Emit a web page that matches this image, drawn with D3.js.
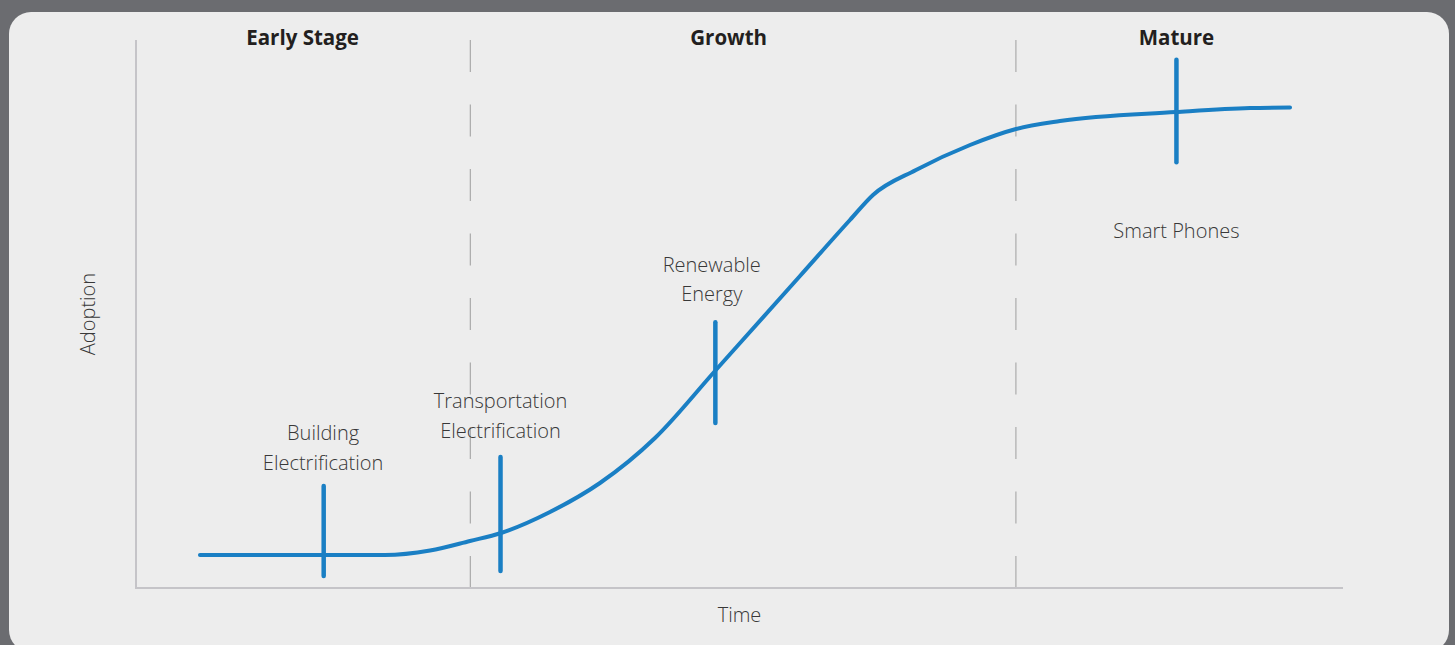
<!DOCTYPE html>
<html>
<head>
<meta charset="utf-8">
<script src="https://cdn.jsdelivr.net/npm/d3@7"></script>
<style>
  html, body { margin: 0; padding: 0; background: #6b6c70; }
  svg { display: block; }
  text { font-family: "Open Sans", Lato, sans-serif; }
</style>
</head>
<body>
<div id="chart"></div>
<script>
// DATA
const stageNames = ["Early Stage", "Growth", "Mature"];
const stageCenters = [13.8, 49.1, 86.2];
const stageDividers = [27.7, 72.9];

// adoption curve (time, adoption)
const curveTime =     [5.3, 20.63, 24.36, 27.67, 30.24, 34.30, 38.44, 43.00, 47.97, 55.01, 59.15, 61.06, 64.62, 69.10, 72.91, 76.55, 86.16, 92.30, 95.61];
const curveAdoption = [6.02, 6.02, 6.84,  8.58,  10.04, 13.87, 19.16, 27.37, 39.60, 56.93, 67.15, 71.72, 76.28, 80.84, 83.76, 85.22, 86.86, 87.59, 87.68];

// milestones
const milestoneLabels = [["Building", "Electrification"], ["Transportation", "Electrification"], ["Renewable", "Energy"], ["Smart Phones"]];
const milestoneTime = [15.55, 30.2, 48.0, 86.2];
const markerTop = [18.6, 23.9, 48.5, 96.4];
const markerBottom = [2.2, 3.1, 30.1, 77.7];
const labelTime = [15.5, 30.2, 47.7, 86.2];
const labelAdoption = [27.0, 32.8, 57.7, 63.9];

const xTitle = "Time";
const yTitle = "Adoption";

// SIZE
const width = 1455, height = 645;
const margin = {left: 136, right: 112, top: 40, bottom: 57};
const blue = "#1a7fc4";

const svg = d3.select("#chart").append("svg")
  .attr("width", width)
  .attr("height", height);

// card background
svg.append("rect")
  .attr("x", 9).attr("y", 12)
  .attr("width", 1440).attr("height", 640)
  .attr("rx", 22).attr("ry", 22)
  .attr("fill", "#ededed");

const x = d3.scaleLinear().domain([0, 100]).range([margin.left, width - margin.right]);
const y = d3.scaleLinear().domain([0, 100]).range([height - margin.bottom, margin.top]);

// stage dividers (dashed)
svg.append("g")
  .selectAll("line")
  .data(stageDividers)
  .enter().append("line")
  .attr("x1", d => x(d)).attr("x2", d => x(d))
  .attr("y1", y(100)).attr("y2", y(0))
  .attr("stroke", "#ababab")
  .attr("stroke-width", 1.2)
  .attr("stroke-dasharray", "32,32.5");

// axes lines
svg.append("line")
  .attr("x1", x(0)).attr("x2", x(0))
  .attr("y1", y(100)).attr("y2", y(0))
  .attr("stroke", "#c5c4c8").attr("stroke-width", 2);
svg.append("line")
  .attr("x1", x(0) - 1).attr("x2", x(100))
  .attr("y1", y(0)).attr("y2", y(0))
  .attr("stroke", "#c5c4c8").attr("stroke-width", 2);

// stage titles
svg.append("g")
  .selectAll("text")
  .data(stageNames)
  .enter().append("text")
  .attr("x", (d, i) => x(stageCenters[i]))
  .attr("y", 45)
  .attr("text-anchor", "middle")
  .attr("font-size", 20.5)
  .attr("font-weight", 700)
  .attr("fill", "#231f20")
  .text(d => d);

// axis titles
svg.append("text")
  .attr("x", (x(0) + x(100)) / 2)
  .attr("y", 622)
  .attr("text-anchor", "middle")
  .attr("font-size", 20)
  .attr("font-weight", 300)
  .attr("fill", "#383838")
  .text(xTitle);

svg.append("text")
  .attr("transform", `translate(95, ${(y(0) + y(100)) / 2}) rotate(-90)`)
  .attr("text-anchor", "middle")
  .attr("font-size", 20)
  .attr("font-weight", 300)
  .attr("fill", "#383838")
  .text(yTitle);

// the curve
const line = d3.line()
  .x(d => x(d[0]))
  .y(d => y(d[1]))
  .curve(d3.curveMonotoneX);

svg.append("path")
  .datum(curveTime.map((t, i) => [t, curveAdoption[i]]))
  .attr("d", line)
  .attr("fill", "none")
  .attr("stroke", blue)
  .attr("stroke-width", 4)
  .attr("stroke-linecap", "round");

// milestone markers
svg.append("g")
  .selectAll("line")
  .data(milestoneTime)
  .enter().append("line")
  .attr("x1", d => x(d)).attr("x2", d => x(d))
  .attr("y1", (d, i) => y(markerTop[i]))
  .attr("y2", (d, i) => y(markerBottom[i]))
  .attr("stroke", blue)
  .attr("stroke-width", 4.5)
  .attr("stroke-linecap", "round");

// milestone labels
const labels = svg.append("g")
  .selectAll("text")
  .data(milestoneLabels)
  .enter().append("text")
  .attr("x", (d, i) => x(labelTime[i]))
  .attr("y", (d, i) => y(labelAdoption[i]))
  .attr("text-anchor", "middle")
  .attr("font-size", 20)
  .attr("font-weight", 300)
  .attr("fill", "#383838");

labels.selectAll("tspan")
  .data((d, i) => d.map(s => ({s, i})))
  .enter().append("tspan")
  .attr("x", d => x(labelTime[d.i]))
  .attr("dy", (d, j) => j === 0 ? 0 : 29.5)
  .text(d => d.s);
</script>
</body>
</html>
